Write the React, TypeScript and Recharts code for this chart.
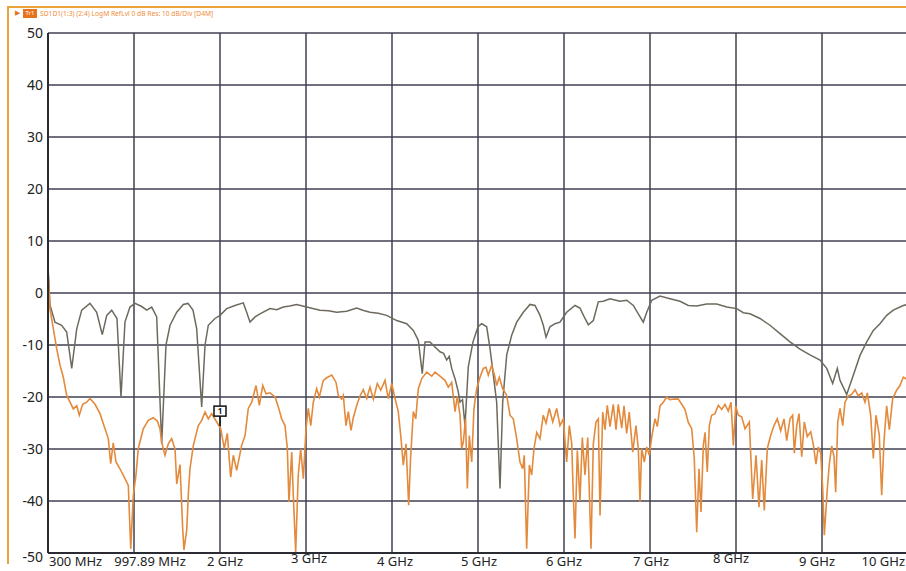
import React from 'react';
import { LineChart, Line, XAxis, YAxis, CartesianGrid, ReferenceDot } from 'recharts';

// x = grid division (0..10), y = dB
const xTickLabels = ['300 MHz', '997.89 MHz', '2 GHz', '3 GHz', '4 GHz', '5 GHz', '6 GHz', '7 GHz', '8 GHz', '9 GHz', '10 GHz'];
const xTicks = [0, 1, 2, 3, 4, 5, 6, 7, 8, 9, 10];
const yTicks = [-50, -40, -30, -20, -10, 0, 10, 20, 30, 40, 50];

const grayTrace: [number, number][] = [
  [0, -30], [0.004, 4], [0.023, -2.3], [0.081, -5.6], [0.159, -6.2], [0.217, -7.5], [0.276, -14.5], [0.334, -6.9],
  [0.392, -3.3], [0.488, -2.0], [0.566, -3.7], [0.631, -8.0], [0.683, -4.3], [0.741, -3.3], [0.802, -4.9],
  [0.849, -20.0], [0.895, -5.6], [0.953, -2.7], [1.012, -2.0], [1.09, -2.6], [1.148, -3.3], [1.206, -2.7],
  [1.264, -4.6], [1.322, -29], [1.372, -10], [1.419, -6.2], [1.497, -3.7], [1.573, -2.2], [1.628, -2.0],
  [1.686, -3.3], [1.729, -6.9], [1.787, -21.9], [1.826, -10], [1.864, -6.2], [1.942, -4.9], [2.0, -4.3],
  [2.078, -3.0], [2.174, -2.4], [2.271, -1.9], [2.31, -3.7], [2.349, -5.6], [2.407, -4.6], [2.465, -4.0],
  [2.581, -3.0], [2.66, -3.2], [2.736, -2.7], [2.81, -2.5], [2.892, -2.2], [3.008, -2.7], [3.08, -3.0], [3.163, -3.3],
  [3.26, -3.4], [3.357, -3.7], [3.473, -3.5], [3.59, -2.9], [3.66, -3.3], [3.744, -3.7], [3.84, -3.9], [3.938, -4.3],
  [4.055, -5.3], [4.171, -5.9], [4.248, -7.2], [4.306, -9.1], [4.352, -15.5], [4.384, -9.4], [4.442, -9.4],
  [4.5, -10.4], [4.558, -11.3], [4.6, -11.6], [4.636, -12.9], [4.665, -12.2], [4.694, -14.5], [4.733, -16.5],
  [4.771, -19], [4.791, -21], [4.82, -20.5], [4.849, -25.5], [4.887, -14.2], [4.942, -9.4], [5.0, -6.5],
  [5.043, -5.9], [5.101, -6.5], [5.14, -10.7], [5.174, -15.2], [5.217, -21], [5.256, -37.6], [5.287, -21],
  [5.334, -11.9], [5.392, -8.1], [5.45, -5.6], [5.527, -3.7], [5.605, -2.2], [5.663, -2.4], [5.721, -4.3],
  [5.759, -6.2], [5.791, -8.5], [5.837, -6.5], [5.895, -5.9], [5.953, -5.6], [6.031, -3.7], [6.128, -2.4],
  [6.186, -2.9], [6.244, -4.9], [6.283, -6.1], [6.341, -5.3], [6.399, -1.7], [6.457, -1.6], [6.535, -1.1],
  [6.651, -1.6], [6.729, -1.4], [6.806, -2.4], [6.864, -4.0], [6.922, -5.6], [6.962, -3.7], [7.02, -1.4],
  [7.116, -0.6], [7.233, -1.1], [7.349, -1.6], [7.445, -2.4], [7.543, -2.5], [7.659, -2.1], [7.776, -2.1],
  [7.892, -2.7], [8.008, -3.0], [8.085, -3.8], [8.163, -4.0], [8.279, -4.9], [8.395, -6.2], [8.512, -7.8],
  [8.628, -9.4], [8.744, -10.8], [8.86, -11.9], [8.977, -12.9], [9.055, -14.5], [9.124, -17.4], [9.178, -14.5],
  [9.209, -16.8], [9.287, -19.5], [9.364, -15.8], [9.442, -12], [9.52, -9.4], [9.597, -7.2], [9.674, -5.9],
  [9.752, -4.3], [9.829, -3.3], [9.945, -2.4], [10, -2.2],
];

const orangeTrace: [number, number][] = [
  [0, -20], [0.004, 3], [0.023, -3], [0.062, -6.9], [0.101, -10.7], [0.14, -13.9], [0.178, -16.2], [0.217, -19.7],
  [0.256, -21], [0.294, -22.3], [0.334, -21.7], [0.364, -23.5], [0.403, -21.4], [0.45, -21], [0.488, -20.3],
  [0.547, -21.4], [0.605, -23.2], [0.663, -26.1], [0.701, -28], [0.729, -32.8], [0.759, -28.8], [0.791, -32.5],
  [0.837, -33.8], [0.895, -35.7], [0.934, -37], [0.962, -49.2], [0.992, -38.9], [1.023, -35], [1.05, -29.9],
  [1.108, -26.1], [1.166, -24.5], [1.224, -24], [1.271, -24.6], [1.302, -26.1], [1.322, -28.7], [1.36, -31.2],
  [1.399, -29], [1.438, -28], [1.477, -30], [1.497, -36.7], [1.535, -33], [1.566, -45.3], [1.581, -49.4],
  [1.613, -45.6], [1.634, -38], [1.651, -33.8], [1.69, -29.3], [1.748, -25.5], [1.787, -24.5], [1.826, -22.9],
  [1.864, -24.2], [1.903, -23.2], [1.962, -24.8], [2.008, -26.1], [2.05, -29.9], [2.085, -27], [2.124, -35.4],
  [2.155, -31.2], [2.194, -34.1], [2.252, -29.3], [2.291, -27.4], [2.329, -22.2], [2.369, -21], [2.419, -17.8],
  [2.457, -21.6], [2.497, -17.8], [2.535, -19.4], [2.581, -19.2], [2.64, -20], [2.678, -21.9], [2.717, -24.2],
  [2.756, -25.5], [2.783, -29.9], [2.802, -40.2], [2.834, -30.6], [2.855, -40], [2.88, -49.8], [2.91, -35],
  [2.938, -30], [2.969, -35.7], [3.0, -26.1], [3.027, -22.2], [3.055, -25.5], [3.085, -21], [3.124, -18.4],
  [3.155, -20], [3.201, -16.8], [3.241, -16.3], [3.299, -15.8], [3.349, -17.2], [3.376, -19.7], [3.415, -20.4],
  [3.434, -19.7], [3.465, -25.5], [3.492, -22.8], [3.523, -26.4], [3.55, -24], [3.59, -21.6], [3.628, -19.8],
  [3.666, -18.6], [3.706, -20.3], [3.744, -18.1], [3.783, -20.4], [3.829, -17.4], [3.869, -18.7], [3.919, -16.8],
  [3.957, -20.3], [3.997, -17.4], [4.035, -20.3], [4.073, -22.8], [4.105, -28], [4.131, -33.1], [4.163, -29],
  [4.194, -40.8], [4.217, -31.5], [4.248, -22.8], [4.276, -24.2], [4.306, -18.4], [4.345, -16.5], [4.403, -15.2],
  [4.462, -16], [4.5, -15.2], [4.558, -16], [4.616, -16.8], [4.655, -18.1], [4.694, -17.2], [4.733, -22.8],
  [4.759, -19.9], [4.791, -23.5], [4.81, -29.9], [4.829, -28.7], [4.855, -24.2], [4.876, -37.6], [4.899, -27.4],
  [4.927, -32.5], [4.953, -22.2], [4.985, -18.4], [5.023, -16.2], [5.062, -14.5], [5.093, -14.3], [5.12, -15.8],
  [5.159, -13.9], [5.198, -16.2], [5.217, -17.8], [5.248, -16.2], [5.287, -18.4], [5.334, -19.7], [5.372, -23.5],
  [5.41, -24.2], [5.45, -28], [5.488, -32.5], [5.52, -33.8], [5.538, -31.2], [5.566, -49.2], [5.597, -33.1],
  [5.624, -35], [5.651, -29.9], [5.683, -26.8], [5.721, -28], [5.759, -23.5], [5.791, -25], [5.829, -22.2],
  [5.869, -24.8], [5.915, -22.2], [5.953, -25.5], [5.992, -24.2], [6.031, -32.5], [6.062, -25.5], [6.09, -29],
  [6.108, -38.9], [6.128, -47.2], [6.155, -30.3], [6.186, -40], [6.213, -27.8], [6.244, -35], [6.276, -27.8],
  [6.314, -49.2], [6.341, -29], [6.372, -24.8], [6.399, -24.2], [6.419, -42.8], [6.45, -22.9], [6.477, -26.3],
  [6.503, -21.6], [6.535, -25.7], [6.573, -21.4], [6.605, -26.3], [6.631, -21.4], [6.671, -26], [6.698, -21.7],
  [6.729, -27], [6.759, -22.9], [6.799, -30.6], [6.837, -25.5], [6.864, -29.9], [6.884, -40.2], [6.903, -29.9],
  [6.934, -32.5], [6.962, -29.6], [6.992, -31.2], [7.02, -27.7], [7.058, -24.2], [7.085, -25.7], [7.116, -21.7],
  [7.155, -21], [7.194, -20], [7.233, -20.5], [7.279, -20.4], [7.329, -20.4], [7.369, -21.4], [7.407, -22.4],
  [7.445, -24.9], [7.485, -26.1], [7.515, -31.9], [7.543, -46], [7.57, -33.8], [7.593, -42.1], [7.62, -29.3],
  [7.64, -26.8], [7.666, -34.4], [7.69, -25.5], [7.717, -23.5], [7.756, -23.2], [7.794, -21.6], [7.834, -22.4],
  [7.872, -21.4], [7.91, -22.7], [7.942, -21], [7.969, -29.3], [7.997, -21.7], [8.027, -23.5], [8.066, -23.8],
  [8.105, -26.1], [8.155, -24.8], [8.194, -39.6], [8.233, -31.2], [8.267, -41.2], [8.299, -32.1], [8.329, -41.8],
  [8.364, -29.9], [8.403, -27.4], [8.442, -25.5], [8.48, -24.2], [8.52, -26.5], [8.558, -24.2], [8.59, -28.4],
  [8.628, -24.2], [8.659, -23.5], [8.678, -30.8], [8.706, -25.5], [8.733, -23.2], [8.764, -31.5], [8.794, -24.8],
  [8.829, -27.6], [8.869, -26.7], [8.899, -29.1], [8.93, -32.9], [8.957, -29.6], [8.985, -30.8], [9.008, -37.6],
  [9.027, -46.6], [9.062, -37.6], [9.085, -32.9], [9.113, -29.4], [9.14, -31.5], [9.159, -38.3], [9.183, -24.8],
  [9.209, -22.2], [9.241, -25.5], [9.267, -21], [9.306, -19.8], [9.345, -19.5], [9.384, -18.6], [9.422, -19.8],
  [9.462, -19.2], [9.5, -21], [9.527, -19.2], [9.566, -23.5], [9.597, -31.8], [9.628, -23.5], [9.666, -27.3],
  [9.694, -38.9], [9.721, -28.5], [9.752, -21.7], [9.783, -26.3], [9.822, -20.3], [9.868, -18.7], [9.907, -17.8],
  [9.945, -16.2], [9.973, -16.5], [10, -16],
];

// marker 1 sits on the orange trace
const marker = { x: 2.0, y: -25.6, label: '1' };

const toRows = (pts: [number, number][]) => pts.map(([x, y]) => ({ x, y }));
const grayRows = toRows(grayTrace);
const orangeRows = toRows(orangeTrace);

const FONT = '"Noto Sans", "Open Sans", sans-serif';
const GRID = '#3f4150';
const FRAME = '#eca23a';

// label placement tweaks along the bottom axis
const xLabelShift = [
  { anchor: 'start', dx: 1, dy: 0 },
  { anchor: 'middle', dx: 16, dy: 0 },
  { anchor: 'middle', dx: 5, dy: 0 },
  { anchor: 'middle', dx: 3, dy: -3 },
  { anchor: 'middle', dx: 3, dy: 0 },
  { anchor: 'middle', dx: 1, dy: 0 },
  { anchor: 'middle', dx: 0, dy: 0 },
  { anchor: 'middle', dx: 1, dy: 0 },
  { anchor: 'middle', dx: -5, dy: -3 },
  { anchor: 'middle', dx: -5, dy: 0 },
  { anchor: 'end', dx: -3, dy: 0 },
];

const XTick = (props: any) => {
  const { x, y, payload, index } = props;
  const s = xLabelShift[index] || { anchor: 'middle', dx: 0, dy: 0 };
  return (
    <text x={x + s.dx} y={y + 13 + s.dy} textAnchor={s.anchor} fontSize={13} fill="#222" fontFamily={FONT}>
      {xTickLabels[index] ?? payload.value}
    </text>
  );
};

const YTick = (props: any) => {
  const { x, y, payload } = props;
  const extra = payload.value === -50 ? 4 : 0;
  return (
    <text x={x} y={y + extra} dy={5} textAnchor="end" fontSize={14} fill="#222" fontFamily={FONT}>
      {payload.value}
    </text>
  );
};

const MarkerShape = (props: any) => {
  const { cx, cy } = props;
  return (
    <g>
      <line x1={cx} y1={cy} x2={cx} y2={cy - 10} stroke="#111" strokeWidth={1.5} />
      <rect x={cx - 6} y={cy - 20} width={12} height={10} fill="#fff" stroke="#111" strokeWidth={1.5} />
      <text x={cx} y={cy - 12} textAnchor="middle" fontSize={8} fontWeight={700} fill="#111" fontFamily={FONT}>
        {marker.label}
      </text>
    </g>
  );
};

export default function App() {
  return (
    <div style={{ position: 'absolute', left: 0, top: 0, width: 906, height: 571, overflow: 'hidden', background: '#fff' }}>
      {/* instrument frame */}
      <div style={{ position: 'absolute', left: 7, top: 6, width: 920, height: 556, borderTop: `2px solid ${FRAME}`, borderLeft: `2px solid ${FRAME}` }} />
      <div style={{ position: 'absolute', left: 15, top: 8, fontSize: 7, color: '#e8731e', fontFamily: FONT, lineHeight: '9px' }}>▶</div>
      <div style={{ position: 'absolute', left: 23, top: 9, width: 14, height: 9, background: '#e8731e', color: '#fff', fontSize: 6, lineHeight: '9px', textAlign: 'center', fontFamily: FONT }}>Tr1</div>
      <div style={{ position: 'absolute', left: 40, top: 8, fontSize: 6.7, color: '#ef8d3a', fontFamily: FONT, lineHeight: '11px', whiteSpace: 'nowrap' }}>
        SD1D1(1:3) (2:4)  LogM RefLvl 0  dB Res: 10  dB/Div  [D4M]
      </div>
      <div style={{ position: 'absolute', left: 0, top: 0 }}>
        <LineChart width={920} height={571} margin={{ top: 33, right: 12, bottom: 0, left: 8 }}>
          <CartesianGrid stroke={GRID} strokeWidth={1.5} horizontalValues={yTicks} verticalValues={xTicks} />
          <XAxis
            type="number"
            dataKey="x"
            domain={[0, 10]}
            ticks={xTicks}
            allowDataOverflow
            height={18}
            tickSize={0}
            tickMargin={0}
            tick={<XTick />}
            axisLine={{ stroke: '#2a2b33', strokeWidth: 2 }}
            interval={0}
          />
          <YAxis
            type="number"
            domain={[-50, 50]}
            ticks={yTicks}
            allowDataOverflow
            width={40}
            tickSize={0}
            tickMargin={5}
            tick={<YTick />}
            axisLine={{ stroke: '#2a2b33', strokeWidth: 2 }}
            interval={0}
          />
          <Line data={grayRows} dataKey="y" type="linear" stroke="#6d6a5d" strokeWidth={1.5} dot={false} isAnimationActive={false} />
          <Line data={orangeRows} dataKey="y" type="linear" stroke="#e48a3c" strokeWidth={1.6} dot={false} isAnimationActive={false} />
          <ReferenceDot x={marker.x} y={marker.y} r={0} shape={<MarkerShape />} />
        </LineChart>
      </div>
    </div>
  );
}
